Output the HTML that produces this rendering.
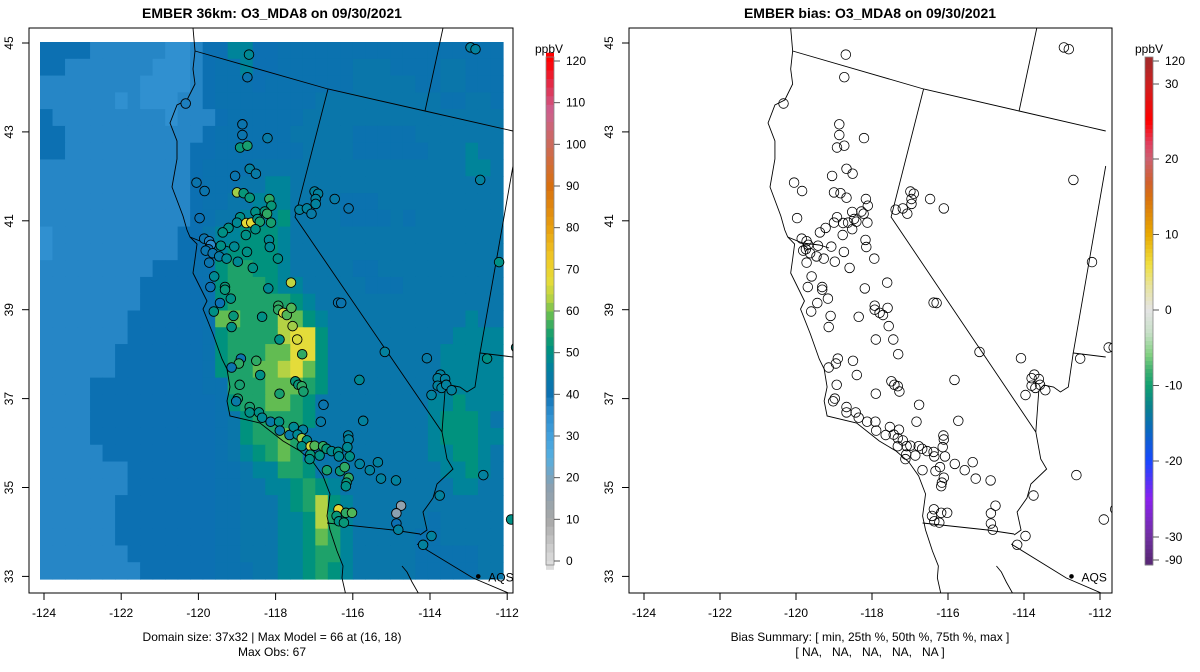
<!DOCTYPE html>
<html><head><meta charset="utf-8"><style>
html,body{margin:0;padding:0;background:#fff;}
svg{display:block;font-family:"Liberation Sans",Arial,sans-serif;}
</style></head><body>
<svg id="root" xmlns="http://www.w3.org/2000/svg" width="1200" height="672" viewBox="0 0 1200 672">
<rect width="1200" height="672" fill="#fff"/>
<defs>
<clipPath id="clipL"><rect x="29" y="28" width="484" height="565"/></clipPath>
<clipPath id="clipR"><rect x="629" y="28" width="483" height="565"/></clipPath>
</defs>
<text x="272" y="18" text-anchor="middle" font-size="14" font-weight="bold">EMBER 36km: O3_MDA8 on 09/30/2021</text>
<text x="870" y="18" text-anchor="middle" font-size="14" font-weight="bold">EMBER bias: O3_MDA8 on 09/30/2021</text>
<g id="heat" clip-path="url(#clipL)"></g>
<g id="mapL" clip-path="url(#clipL)"></g>
<g id="sitesL" clip-path="url(#clipL)"></g>
<g id="mapR" clip-path="url(#clipR)"></g>
<g id="sitesR" clip-path="url(#clipR)"></g>
<rect x="29" y="28" width="484" height="565" fill="none" stroke="#000" stroke-width="1"/>
<rect x="629" y="28" width="483" height="565" fill="none" stroke="#000" stroke-width="1"/>
<g id="axes"></g>
<g id="cbL"></g>
<g id="cbR"></g>
<text x="272" y="641" text-anchor="middle" font-size="12">Domain size: 37x32 | Max Model = 66 at (16, 18)</text>
<text x="272" y="656" text-anchor="middle" font-size="12">Max Obs: 67</text>
<text x="870" y="641" text-anchor="middle" font-size="12">Bias Summary: [ min, 25th %, 50th %, 75th %, max ]</text>
<text x="870" y="656" text-anchor="middle" font-size="12" xml:space="preserve">[ NA,   NA,   NA,   NA,   NA ]</text>
</svg>
<script>
// ---- data ----
var heatRows = [
"ccccb"+"bbbbb"+"aabcc"+"ffccd"+"ddddd"+"ddddd"+"ddddd"+"dd",
"ccbbb"+"bbbba"+"aabcd"+"dfccd"+"ddddd"+"eeedd"+"ddeed"+"dd",
"bbbbb"+"bbbaa"+"aabcd"+"ddcdd"+"ddddd"+"eeeee"+"ddeed"+"dd",
"bbbbb"+"babaa"+"abbcd"+"ddddd"+"ddeee"+"eeeee"+"eedde"+"ed",
"cbbbb"+"bbbbb"+"abbbc"+"ddddd"+"deeee"+"eeeee"+"eeeee"+"ee",
"ccbbb"+"bbbbb"+"bbbcd"+"ddddd"+"eeeee"+"ddddd"+"eeeee"+"ee",
"ccbbb"+"bbbbb"+"bbccd"+"ddddd"+"deeee"+"ddddd"+"deeef"+"ee",
"bbbbb"+"bbbbb"+"bbcdd"+"ddeee"+"eeeee"+"eeeee"+"eeeef"+"fe",
"bbbbb"+"bbbbb"+"bbcdd"+"deeff"+"eeeee"+"eeeee"+"eeeee"+"ee",
"bbbbb"+"bbbbb"+"bbcdd"+"eefff"+"eeeed"+"ddeee"+"eeeee"+"ee",
"bbbbb"+"bbbbb"+"bbcde"+"efffg"+"eeeed"+"ddded"+"eeeee"+"ee",
"abbbb"+"bbbbb"+"bccef"+"fgggf"+"eeeee"+"eeeee"+"eeeee"+"ee",
"abbbb"+"bbbbb"+"bccdf"+"ggggf"+"eeeee"+"eeeee"+"eeeee"+"ee",
"bbbbb"+"bbbbc"+"ccddg"+"hhggf"+"eeeee"+"ddeee"+"eeeee"+"ee",
"bbbbb"+"bbbcc"+"cccdg"+"hhhgf"+"feeee"+"eddde"+"eeeee"+"ee",
"bbbbb"+"bbbcc"+"cccdg"+"hhhhh"+"gfeee"+"eeeee"+"eeeee"+"ee",
"bbbbb"+"bbccc"+"cccdi"+"ihhhj"+"igfee"+"eeeee"+"eeeef"+"ee",
"bbbbb"+"bbccc"+"cccdg"+"hhhhj"+"kkgee"+"eeeee"+"eeeff"+"ff",
"bbbbb"+"bcccc"+"cccdg"+"hhhii"+"kkgee"+"eeeee"+"eefff"+"ff",
"bbbbb"+"bcccc"+"cccdg"+"hhiij"+"kigee"+"eeeee"+"eefff"+"ff",
"bbbbc"+"ccccc"+"cccdd"+"hhhii"+"ihgee"+"eeeee"+"eefff"+"ff",
"bbbbc"+"ccccc"+"ccccd"+"ghhii"+"hgeee"+"eeeee"+"effgf"+"ff",
"bbbbc"+"ccccc"+"ccccd"+"eghhh"+"hgeee"+"eeeee"+"efggg"+"fe",
"bbbbc"+"ccccc"+"ccccd"+"eghhi"+"heeee"+"eeeee"+"efggg"+"ff",
"bbbbb"+"ccccc"+"ccccd"+"efghi"+"hddee"+"eeeee"+"effgg"+"fe",
"bbbbb"+"bbccc"+"ccccd"+"deffh"+"hgeee"+"eeeee"+"eeffg"+"fe",
"bbbbb"+"bbccc"+"ccccd"+"deeff"+"ghgfe"+"eeeee"+"eeeff"+"ee",
"bbbbb"+"bcccc"+"ccccd"+"deeef"+"ghjgf"+"eeeee"+"eeeee"+"ee",
"bbbbb"+"bcccc"+"ccccd"+"deeef"+"fgjhf"+"eeeee"+"edeee"+"ee",
"bbbbb"+"bcccc"+"ccccd"+"deeef"+"fgihf"+"eeeee"+"ddeee"+"ee",
"bbbbb"+"bbccc"+"ccccd"+"deeef"+"fghhf"+"eeeee"+"ddddd"+"ee",
"bbbbb"+"bbbcc"+"ccccd"+"ddeef"+"fghgf"+"eeeee"+"ddddd"+"ee"
];
var levelChars = ["a","b","c","d","e","f","g","h","i","j","k"];
var levelValues = [35,37,40,41,43,47,51,55,59,63,67];

var siteLon = [-118.69,-118.73,-120.33,-118.86,-118.86,-118.21,-118.92,-118.73,-118.67,-118.51,-119.05,-120.05,-119.84,-119.00,-118.83,-118.67,-118.16,-118.11,-116.99,-116.90,-116.96,-116.96,-116.47,-116.11,-117.38,-117.19,-117.07,-119.97,-118.92,-119.00,-118.76,-118.63,-118.52,-118.47,-118.41,-118.28,-118.22,-118.12,-119.22,-119.37,-118.52,-118.77,-119.85,-119.72,-119.68,-119.74,-119.81,-119.63,-119.42,-119.07,-119.46,-119.27,-119.72,-118.98,-118.74,-118.17,-118.15,-117.94,-118.59,-119.59,-119.69,-119.31,-119.31,-119.16,-119.44,-119.60,-118.19,-117.60,-119.09,-118.35,-117.93,-117.93,-117.80,-117.71,-117.59,-116.38,-116.30,-112.95,-112.82,-112.70,-112.21,-119.14,-117.56,
-117.90,-117.44,-117.31,-115.17,-114.08,-112.52,-111.77,-111.64,-118.90,-118.95,-119.14,-118.50,-118.40,-118.93,-117.49,-117.41,-117.32,-117.28,-115.83,-117.90,-118.98,-119.02,-118.67,-118.67,-118.43,-118.35,-118.13,-117.91,-116.76,-116.83,-115.73,-117.89,-117.64,-117.53,-117.29,-117.43,-117.32,-117.19,-117.32,-117.09,-116.99,-116.77,-116.68,-116.55,-116.38,-116.36,-116.08,-116.12,-116.11,-116.14,-117.10,-117.12,-116.86,-116.67,-116.33,-116.21,-115.82,-115.56,-115.35,-116.11,-116.16,-116.18,-115.27,-114.88,-113.73,-113.80,-113.61,-113.80,-113.70,-113.58,-113.96,-113.44,-112.62,-113.75,-114.75,-114.87,-114.87,-114.82,-116.37,-116.18,-116.02,-116.42,-116.36,-116.23,-113.96,-114.18,-111.90,-111.60];
var siteLat = [44.74,44.23,43.64,43.17,42.93,42.86,42.65,42.69,42.17,42.06,42.01,41.86,41.67,41.64,41.62,41.52,41.49,41.34,41.66,41.61,41.49,41.38,41.49,41.28,41.25,41.28,41.16,41.06,41.08,40.96,40.95,40.96,41.20,41.04,40.98,41.21,41.16,40.96,40.84,40.74,40.81,40.68,40.60,40.54,40.46,40.36,40.33,40.27,40.44,40.42,40.20,40.15,40.06,40.08,40.30,40.57,40.41,40.15,39.94,39.75,39.51,39.51,39.45,39.25,39.15,38.96,39.48,39.61,38.86,38.84,39.09,39.00,38.93,38.88,39.04,39.16,39.15,44.90,44.86,41.92,40.07,38.61,38.63,
38.33,38.33,38.00,38.05,37.91,37.90,38.15,38.15,37.90,37.79,37.70,37.85,37.53,37.31,37.39,37.31,37.28,37.16,37.42,37.11,37.00,36.94,36.81,36.69,36.69,36.57,36.48,36.48,36.86,36.48,36.50,36.28,36.18,36.36,36.30,36.19,36.11,36.06,35.93,35.93,35.94,35.93,35.87,35.82,35.80,35.70,35.70,36.17,36.08,35.91,35.74,35.64,35.72,35.39,35.37,35.46,35.53,35.39,35.57,35.22,35.11,35.03,35.20,35.16,37.54,37.46,37.44,37.29,37.24,37.31,37.08,37.19,35.28,34.82,34.59,34.42,34.19,34.05,34.51,34.43,34.43,34.36,34.24,34.21,33.91,33.71,34.28,34.51];
var siteObs = [48,42,38,42,42,44,52,54,46,44,42,42,42,62,52,52,56,52,46,46,46,46,44,42,46,46,44,40,50,48,68,68,50,50,54,52,56,54,50,50,50,50,42,38,36,40,42,42,50,48,44,48,42,48,50,48,48,50,50,48,40,52,52,50,40,50,48,64,52,50,56,56,66,58,58,42,42,46,46,46,50,50,62,
50,66,56,46,44,50,50,50,42,56,42,56,50,54,52,52,56,54,48,54,54,44,54,50,50,48,44,50,42,44,46,44,44,48,46,48,62,50,50,66,58,56,52,48,50,48,50,46,46,48,52,50,50,54,52,56,46,46,46,56,52,50,46,46,46,46,46,46,46,46,46,46,46,46,16,18,40,46,68,56,58,52,50,52,46,46,50,62];

var lonTicks = [-124,-122,-120,-118,-116,-114,-112];
var latTicks = [45,43,41,39,37,35,33];
var cbLeftTicks = [0,10,20,30,40,50,60,70,80,90,100,110,120];
var cbRightLabels = ["120","30","20","10","0","-10","-20","-30","-90"];
var cbRightPos = [120,30,20,10,0,-10,-20,-30,-90];

// ---- scales ----
var NS="http://www.w3.org/2000/svg";
function el(tag, attrs, parent){var e=document.createElementNS(NS,tag);for(var k in attrs)e.setAttribute(k,attrs[k]);parent.appendChild(e);return e;}
function xL(lon){return 44+(lon+124)*38.6;}
function xR(lon){return 644+(lon+124)*38.0;}
function yM(lat){return 43+(45-lat)*44.45;}
var heatStops=[[0,"#dcdcdc"],[10,"#a8a8a8"],[18,"#8aa0b0"],[25,"#55aee0"],[30,"#42a0dc"],[35,"#3090d0"],[37,"#2686c6"],[40,"#0c70b2"],[43,"#0a76aa"],[47,"#00849a"],[51,"#00927e"],[55,"#1ea26a"],[59,"#62bc52"],[63,"#b4d244"],[67,"#e4dc3a"],[72,"#f0cc28"],[80,"#e8a010"],[90,"#d87010"],[100,"#cc6a5a"],[108,"#cc6090"],[114,"#e03050"],[120,"#ff0000"]];
function hex(c){return [parseInt(c.substr(1,2),16),parseInt(c.substr(3,2),16),parseInt(c.substr(5,2),16)];}
function colorOf(v,stops){
  if(v<=stops[0][0])return stops[0][1];
  for(var i=1;i<stops.length;i++){if(v<=stops[i][0]){var a=hex(stops[i-1][1]),b=hex(stops[i][1]);var t=(v-stops[i-1][0])/(stops[i][0]-stops[i-1][0]);
    return "rgb("+Math.round(a[0]+(b[0]-a[0])*t)+","+Math.round(a[1]+(b[1]-a[1])*t)+","+Math.round(a[2]+(b[2]-a[2])*t)+")";}}
  return stops[stops.length-1][1];
}

// ---- heatmap ----
var heat=document.getElementById('heat');
var HX0=40,HX1=503,HY0=42,HY1=579,NC=37,NR=32;
var cw=(HX1-HX0)/NC, ch=(HY1-HY0)/NR;
for(var r=0;r<NR;r++){
  var row=heatRows[r];
  for(var c=0;c<NC;c++){
    var chr=row.charAt(c)||"e";
    var v=levelValues[levelChars.indexOf(chr)];
    var cell=el('rect',{x:(HX0+c*cw).toFixed(2),y:(HY0+r*ch).toFixed(2),width:(cw+0.6).toFixed(2),height:(ch+0.6).toFixed(2),fill:colorOf(v,heatStops)},heat);
    
    
  }
}

// ---- map geometry (left-panel pixel frame) ----
var coast="M193,28 L195,51 L193,69 L195,84 L187,100 L177,105 L170,123 L177,141 L177,159 L172,187 L183,216 L187,230 L190,237 L197,244 L195,259 L193,273 L200,287 L207,301 L203,309 L213,334 L222,359 L227,369 L230,387 L227,401 L230,416 L260,423 L283,441 L300,451 L313,462 L323,476 L330,494 L327,516 L330,530 L337,551 L343,566 L342,578 L347,600";
var bay="M190,237 L205,243 L222,245 L232,248 M205,243 L208,252";
var borders=[
"M195,51 L328,89 L425,111 L513,131",
"M443,28 L425,111",
"M328,89 L295,217 L442,432",
"M513,166 L480,353 L513,357",
"M480,353 L475,387 L467,392 L460,387 L450,385 L445,391 L442,432 L447,459 L453,469 L437,484 L433,498 L423,512 L427,530 L420,535",
"M327,523 L393,530 L420,534",
"M417,544 L473,578 L513,595",
"M402,566 L407,572 L412,582 L420,596"
];
function drawMap(g){
  var p=el('path',{d:coast,fill:"none",stroke:"#000","stroke-width":0.9},g);
  
  var b=el('path',{d:bay,fill:"none",stroke:"#000","stroke-width":0.9},g);
  
  for(var i=0;i<borders.length;i++){
    var s=el('path',{d:borders[i],fill:"none",stroke:"#000","stroke-width":0.9},g);
    
  }
}
drawMap(document.getElementById('mapL'));
var mr=document.getElementById('mapR');
var gT=el('g',{transform:"translate(644,0) scale("+(38.0/38.6)+",1) translate(-44,0)"},mr);
drawMap(gT);

// ---- sites ----
var sL=document.getElementById('sitesL'), sR=document.getElementById('sitesR');
for(var i=0;i<siteLon.length;i++){
  var a=el('circle',{cx:xL(siteLon[i]).toFixed(1),cy:yM(siteLat[i]).toFixed(1),r:4.8,fill:colorOf(siteObs[i],heatStops),stroke:"#000","stroke-width":0.9},sL);
  
  
  var b=el('circle',{cx:xR(siteLon[i]).toFixed(1),cy:yM(siteLat[i]).toFixed(1),r:4.8,fill:"none",stroke:"#000","stroke-width":0.8},sR);
  
  
}
// AQS labels
[[xL,sL],[xR,sR]].forEach(function(pp){
  var d=el('circle',{cx:pp[0](-112.75),cy:yM(33),r:2.3,fill:"#000"},pp[1]);
  
  var t=el('text',{x:pp[0](-112.75)+10,y:yM(33)+5,"font-size":12},pp[1]);t.textContent="AQS";
  
});

// ---- axes ----
var ax=document.getElementById('axes');
[[xL,29],[xR,629]].forEach(function(pp){
  var f=pp[0], bx=pp[1];
  lonTicks.forEach(function(lon){
    var x=f(lon);
    var l=el('line',{x1:x,x2:x,y1:593,y2:600,stroke:"#000"},ax);
    
    var t=el('text',{x:x,y:617,"text-anchor":"middle","font-size":12},ax);t.textContent=lon;
    
  });
  latTicks.forEach(function(lat){
    var y=yM(lat);
    var l=el('line',{x1:bx-7,x2:bx,y1:y,y2:y,stroke:"#000"},ax);
    
    var tx=bx-16;
    var t=el('text',{x:tx,y:y,"text-anchor":"middle","font-size":12,transform:"rotate(-90 "+tx+" "+y+")"},ax);t.textContent=lat;
    
  });
});

// ---- colorbars ----
var cbL=document.getElementById('cbL');
var CBY0=57,CBY1=565;
function yCbL(v){return 561-(v)*(561-61)/120;}
for(var k=0;k<60;k++){
  var v0=-2+k*(124/60);
  var rct=el('rect',{x:546,y:yCbL(v0+124/60),width:8,height:(124/60)*500/120+0.5,fill:colorOf(v0+1,heatStops)},cbL);
  
}
var fr=el('rect',{x:546,y:CBY0,width:8,height:CBY1-CBY0,fill:"none",stroke:"#888","stroke-width":0.8},cbL);

cbLeftTicks.forEach(function(v){
  var y=yCbL(v);
  var l=el('line',{x1:554,x2:560,y1:y,y2:y,stroke:"#555"},cbL);
  
  var t=el('text',{x:566,y:y+4,"font-size":12},cbL);t.textContent=v;
  
});
var ul=el('text',{x:549,y:53,"text-anchor":"middle","font-size":12},cbL);ul.textContent="ppbV";


var biasStops=[[-90,"#5a2878"],[-30,"#7030a0"],[-25,"#8a20f0"],[-20,"#1848ff"],[-16,"#0a68c0"],[-13,"#0a8090"],[-10,"#10a070"],[-8,"#40b070"],[-6,"#80d080"],[-3,"#c8e0c8"],[0,"#e4e4e4"],[3,"#e8e4a0"],[6,"#f0e040"],[10,"#e8a800"],[15,"#d87010"],[17,"#d06030"],[20,"#cc6070"],[22,"#e04060"],[25,"#ff0000"],[30,"#cc2020"],[120,"#a52a2a"]];
function yCbR(v){ if(v>=30) return 84-(v-30)*(84-61)/90; if(v<=-30) return 537+(-30-v)*(560-537)/60; return 310-v*7.55;}
var cbR=document.getElementById('cbR');
for(var y=57;y<565;y+=4){
  var vv; var yc=y+2;
  if(yc<=84) vv=30+(84-yc)*90/23; else if(yc>=537) vv=-30-(yc-537)*60/23; else vv=(310-yc)/7.55;
  var rr=el('rect',{x:1145,y:y,width:8,height:4.5,fill:colorOf(vv,biasStops)},cbR);
  
}
var fr2=el('rect',{x:1145,y:57,width:8,height:508,fill:"none",stroke:"#888","stroke-width":0.8},cbR);

cbRightPos.forEach(function(v,i){
  var y=yCbR(v);
  var l=el('line',{x1:1153,x2:1159,y1:y,y2:y,stroke:"#555"},cbR);
  
  var t=el('text',{x:1165,y:y+4,"font-size":12},cbR);t.textContent=cbRightLabels[i];
  
});
var ul2=el('text',{x:1149,y:53,"text-anchor":"middle","font-size":12},cbR);ul2.textContent="ppbV";

</script>
</body></html>
